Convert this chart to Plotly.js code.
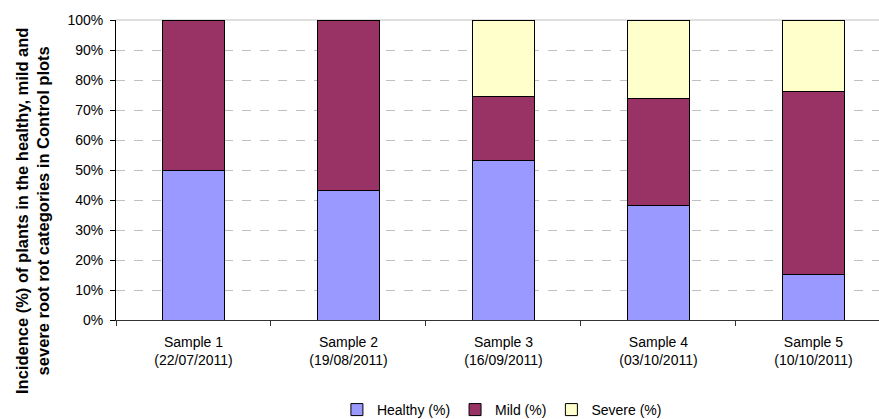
<!DOCTYPE html>
<html><head><meta charset="utf-8">
<script src="https://cdn.plot.ly/plotly-3.0.1.min.js"></script>
<style>body{margin:0;background:#fff}#chart{width:879px;height:419px}</style>
</head><body><div id="chart"></div>
<script>
const categories = ["Sample 1<br>(22/07/2011)", "Sample 2<br>(19/08/2011)", "Sample 3<br>(16/09/2011)", "Sample 4<br>(03/10/2011)", "Sample 5<br>(10/10/2011)"];
const healthy = [50.0, 43.1, 53.3, 38.1, 15.3];
const mild = [50.0, 56.9, 21.2, 35.6, 60.9];
const severe = [0, 0, 25.5, 26.3, 23.8];
const yTickVals = [0,10,20,30,40,50,60,70,80,90,100];
const yTickText = ["0%","10%","20%","30%","40%","50%","60%","70%","80%","90%","100%"];
const yTitle = '<b>Incidence (%) of plants in the healthy, mild and<br>severe root rot categories in Control plots</b>';

const mk = (name, y, color) => ({
  type: 'bar', name: name, x: categories, y: y,
  marker: {color: color, line: {color: '#000', width: 1}},
  hoverinfo: 'y+name'
});
const data = [
  mk('Healthy (%)', healthy, '#9999FF'),
  mk('Mild (%)', mild, '#993366'),
  mk('Severe (%)', severe, '#FFFFCC')
];
const FAM = 'Liberation Sans, Arial, sans-serif';
const font = {family: FAM, size: 14, color: '#000'};
const layout = {
  width: 879, height: 419,
  margin: {l: 116, r: 0, t: 20, b: 99},
  barmode: 'stack', bargap: 0.6,
  paper_bgcolor: '#fff', plot_bgcolor: '#fff',
  font: font,
  showlegend: true,
  legend: {orientation: 'h', xref: 'container', yref: 'container', x: 0.571, xanchor: 'center', y: 0.0215, yanchor: 'middle', font: font, itemwidth: 30, traceorder: 'normal'},
  xaxis: {
    type: 'category', range: [-0.5, 4.423], tickson: 'boundaries',
    ticks: 'outside', ticklen: 5, tickcolor: '#333',
    showline: true, linecolor: '#333', linewidth: 1,
    showgrid: false, tickfont: font, fixedrange: true,
    ticklabelstandoff: 9
  },
  yaxis: {
    range: [0, 100], tickmode: 'array', tickvals: yTickVals, ticktext: yTickText,
    ticks: 'outside', ticklen: 5, tickcolor: '#000',
    showline: true, linecolor: '#000', linewidth: 1,
    showgrid: true, gridcolor: '#c0c0c0', griddash: 'dash', gridwidth: 1,
    zeroline: false, tickfont: font, ticklabelstandoff: 4
  },
  annotations: [{
    text: yTitle, textangle: -90, showarrow: false,
    xref: 'paper', yref: 'paper', x: -0.1094, y: 0.3617, xanchor: 'center', yanchor: 'middle',
    font: {family: FAM, size: 16.5, color: '#000'}
  }],
  shapes: [{type: 'line', xref: 'paper', yref: 'paper', x0: 0, x1: 1, y0: 1, y1: 1, line: {color: '#c0c0c0', width: 1}, layer: 'below'}]
};
Plotly.newPlot('chart', data, layout, {displayModeBar: false, staticPlot: true});
</script></body></html>
